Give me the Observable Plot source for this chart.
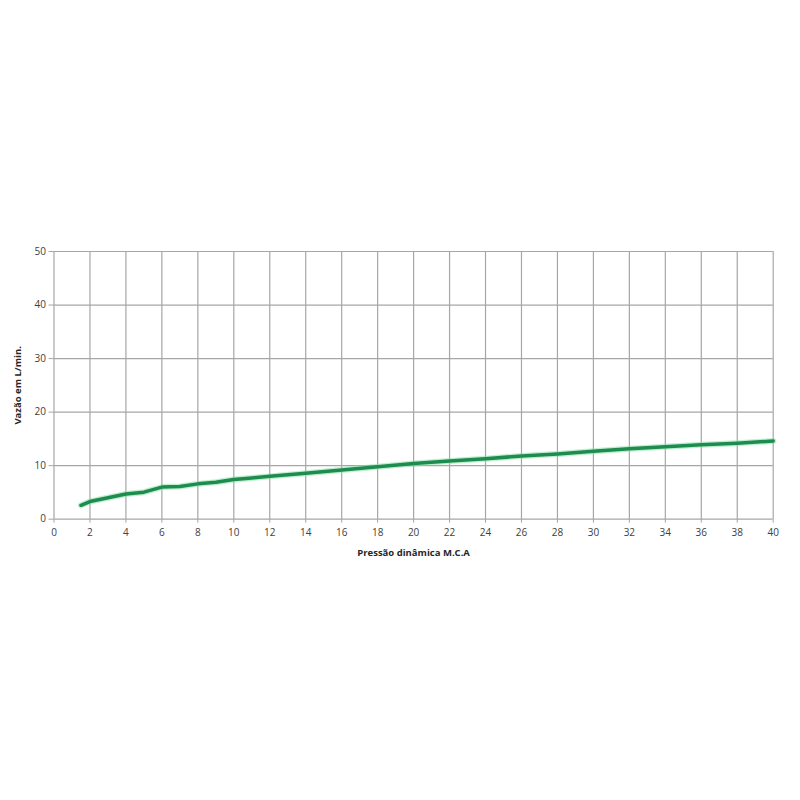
<!DOCTYPE html>
<html>
<head>
<meta charset="utf-8">
<script src="https://cdn.jsdelivr.net/npm/d3@7"></script>
<script src="https://cdn.jsdelivr.net/npm/@observablehq/plot@0.6"></script>
<style>
  html, body { margin: 0; padding: 0; background: #fff; }
  #chart { width: 800px; height: 800px; }
</style>
</head>
<body>
<div id="chart"></div>
<script>
const pressure = [1.5, 2, 3, 4, 5, 6, 7, 8, 9, 10, 11, 12, 14, 16, 18, 20, 22, 24, 26, 28, 30, 32, 34, 36, 38, 40];
const flow = [2.6, 3.3, 4.0, 4.7, 5.05, 6.0, 6.1, 6.6, 6.9, 7.4, 7.7, 8.0, 8.6, 9.2, 9.8, 10.4, 10.85, 11.3, 11.8, 12.2, 12.7, 13.15, 13.55, 13.9, 14.2, 14.6];
const xTicks = d3.range(0, 41, 2);
const yTicks = [0, 10, 20, 30, 40, 50];
const xLabel = "Pressão dinâmica M.C.A";
const yLabel = "Vazão em L/min.";

const data = pressure.map((p, i) => ({p, f: flow[i]}));

const chart = Plot.plot({
  width: 800,
  height: 800,
  marginLeft: 53.5,
  marginRight: 27.3,
  marginTop: 251,
  marginBottom: 281.3,
  style: {fontFamily: "Open Sans, sans-serif", background: "#fff", color: "#404040"},
  x: {domain: [0, 40]},
  y: {domain: [0, 50]},
  marks: [
    Plot.gridX(xTicks, {stroke: "#a6a6a6", strokeOpacity: 1, strokeWidth: 1.2}),
    Plot.gridY(yTicks, {stroke: "#a6a6a6", strokeOpacity: 1, strokeWidth: 1.2}),
    Plot.axisX({ticks: xTicks, tickSize: 4, tickPadding: 6, fontSize: 10, stroke: "#a6a6a6",
      label: xLabel, labelAnchor: "center", labelArrow: "none", labelOffset: 37}),
    Plot.axisY({ticks: yTicks, tickSize: 5, tickPadding: 3, fontSize: 10, stroke: "#a6a6a6",
      label: yLabel, labelAnchor: "center", labelArrow: "none", labelOffset: 40}),
    Plot.line(data, {x: "p", y: "f", stroke: "#7fe0a4", strokeWidth: 6, strokeOpacity: 0.5}),
    Plot.line(data, {x: "p", y: "f", stroke: "#1e8c4e", strokeWidth: 3.5})
  ]
});
d3.select(chart).selectAll('[aria-label$="axis label"] text, g[aria-label="x-axis label"], g[aria-label="y-axis label"]')
  .style("font-weight", "bold").style("font-size", "9.5px").style("fill", "#262626");
document.getElementById("chart").appendChild(chart);
</script>
</body>
</html>
